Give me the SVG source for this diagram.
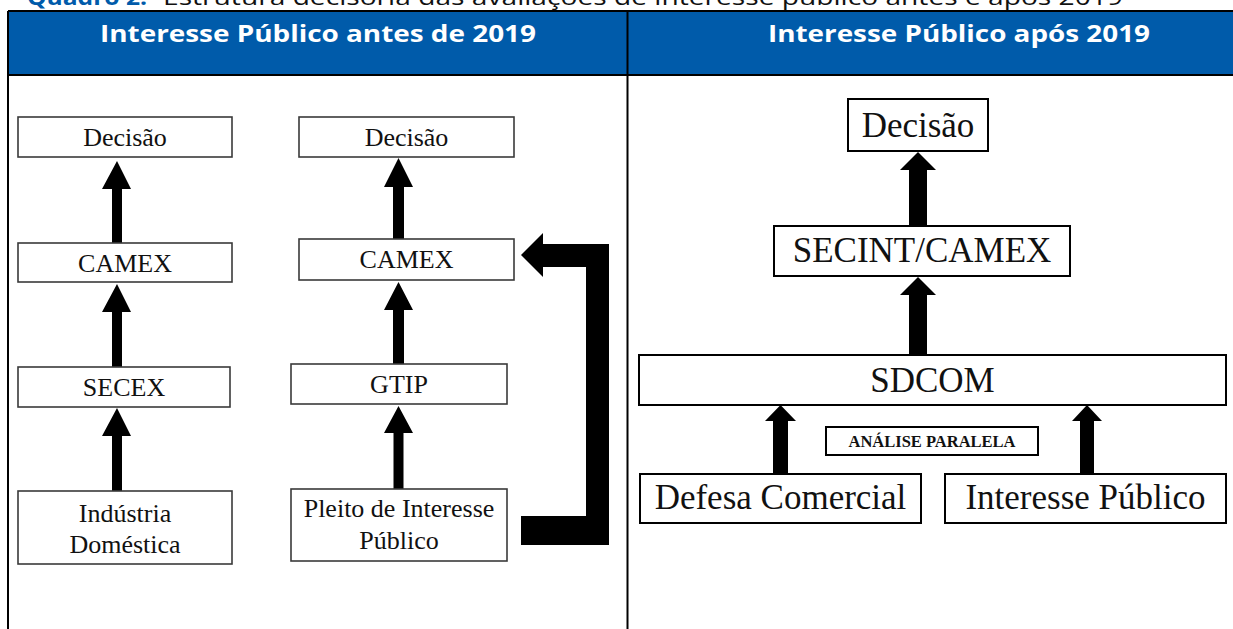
<svg xmlns="http://www.w3.org/2000/svg" width="1233" height="629" viewBox="0 0 1233 629">
<style>
.cap{font-family:"Open Sans","Liberation Sans",sans-serif;font-size:22px;fill:#111}
.capb{font-family:"Open Sans","Liberation Sans",sans-serif;font-size:22px;font-weight:bold;fill:#005BAA}
.hd{font-family:"Open Sans","Liberation Sans",sans-serif;font-size:24px;font-weight:bold;fill:#ffffff}
.bx{fill:#ffffff;stroke:#3a3a3a;stroke-width:1.6}
.bx2{fill:#ffffff;stroke:#000;stroke-width:2}
.t{font-family:"Liberation Serif","Times New Roman",serif;font-size:26px;fill:#111;text-anchor:middle}
.t2{font-family:"Liberation Serif","Times New Roman",serif;font-size:35px;fill:#111;text-anchor:middle}
.tb{font-family:"Liberation Serif","Times New Roman",serif;font-size:16.5px;font-weight:bold;fill:#111;text-anchor:middle}
.ar{fill:#000}
.ln{stroke:#000;stroke-width:2;fill:none}
</style>
<rect x="0" y="0" width="1233" height="629" fill="#ffffff"/>
<g id="caption">
<text class="capb" x="27" y="5" textLength="120" lengthAdjust="spacingAndGlyphs">Quadro 2.</text>
<text class="cap" x="163" y="5" textLength="960" lengthAdjust="spacingAndGlyphs">Estrutura decisória das avaliações de interesse público antes e após 2019</text>
</g>
<g id="table">
<rect x="8" y="12" width="1226" height="63" fill="#005BAA"/>
<line class="ln" x1="8" y1="11" x2="1233" y2="11"/>
<line class="ln" x1="8" y1="75" x2="1233" y2="75"/>
<line class="ln" x1="8" y1="11" x2="8" y2="629"/>
<line class="ln" x1="627.5" y1="11" x2="627.5" y2="629"/>
<text class="hd" x="100" y="42" textLength="436" lengthAdjust="spacingAndGlyphs">Interesse Público antes de 2019</text>
<text class="hd" x="768" y="42" textLength="382" lengthAdjust="spacingAndGlyphs">Interesse Público após 2019</text>
</g>
<g id="connectors">
<polygon class="ar" points="117,161 131,189 122,189 122,243 112,243 112,189 102,189"/>
<polygon class="ar" points="117,284 131,312 122,312 122,367 112,367 112,312 102,312"/>
<polygon class="ar" points="117,408 131,436 122,436 122,491 112,491 112,436 102,436"/>
<polygon class="ar" points="398.5,158 413,187 404,187 404,239 393,239 393,187 384,187"/>
<polygon class="ar" points="398.5,282 413,310 404,310 404,364 393,364 393,310 384,310"/>
<polygon class="ar" points="398.5,406 413,433 403.5,433 403.5,489 393.5,489 393.5,433 384,433"/>
<polygon class="ar" points="521,255 543,233 543,244 609,244 609,545 521,545 521,516 586,516 586,267 543,267 543,277"/>
<polygon class="ar" points="918,152 936,170 927,170 927,226 909,226 909,170 900,170"/>
<polygon class="ar" points="918,277 936,295 927,295 927,355 909,355 909,295 900,295"/>
<polygon class="ar" points="780.5,405 796,421 788,421 788,473 773,473 773,421 765,421"/>
<polygon class="ar" points="1087,405 1102,421 1094,421 1094,473 1080,473 1080,421 1072,421"/>
</g>
<g id="n-decisao-1"><rect class="bx" x="18" y="117" width="214" height="40"/><text class="t" x="125" y="146">Decisão</text></g>
<g id="n-camex-1"><rect class="bx" x="18" y="243" width="214" height="39"/><text class="t" x="125" y="272">CAMEX</text></g>
<g id="n-secex"><rect class="bx" x="18" y="367" width="212" height="40"/><text class="t" x="124" y="396">SECEX</text></g>
<g id="n-industria"><rect class="bx" x="18" y="491" width="214" height="73"/><text class="t" x="125" y="522">Indústria</text><text class="t" x="125" y="553">Doméstica</text></g>
<g id="n-decisao-2"><rect class="bx" x="299" y="117" width="215" height="40"/><text class="t" x="406.5" y="146">Decisão</text></g>
<g id="n-camex-2"><rect class="bx" x="299" y="239" width="215" height="41"/><text class="t" x="406.5" y="268">CAMEX</text></g>
<g id="n-gtip"><rect class="bx" x="291" y="364" width="216" height="40"/><text class="t" x="399" y="393">GTIP</text></g>
<g id="n-pleito"><rect class="bx" x="291" y="489" width="216" height="72"/><text class="t" x="399" y="517">Pleito de Interesse</text><text class="t" x="399" y="549">Público</text></g>
<g id="n-decisao-3"><rect class="bx2" x="848" y="99" width="140" height="52"/><text class="t2" x="918" y="137">Decisão</text></g>
<g id="n-secint"><rect class="bx2" x="774" y="226" width="296" height="50"/><text class="t2" x="922" y="262">SECINT/CAMEX</text></g>
<g id="n-sdcom"><rect class="bx2" x="639" y="355" width="587" height="50"/><text class="t2" x="932.5" y="392">SDCOM</text></g>
<g id="n-analise"><rect class="bx2" x="826" y="427" width="212" height="28"/><text class="tb" x="932" y="447">ANÁLISE PARALELA</text></g>
<g id="n-defesa"><rect class="bx2" x="640" y="474" width="281" height="49"/><text class="t2" x="780.5" y="509">Defesa Comercial</text></g>
<g id="n-interesse"><rect class="bx2" x="945" y="474" width="281" height="49"/><text class="t2" x="1085.5" y="509">Interesse Público</text></g>
</svg>
